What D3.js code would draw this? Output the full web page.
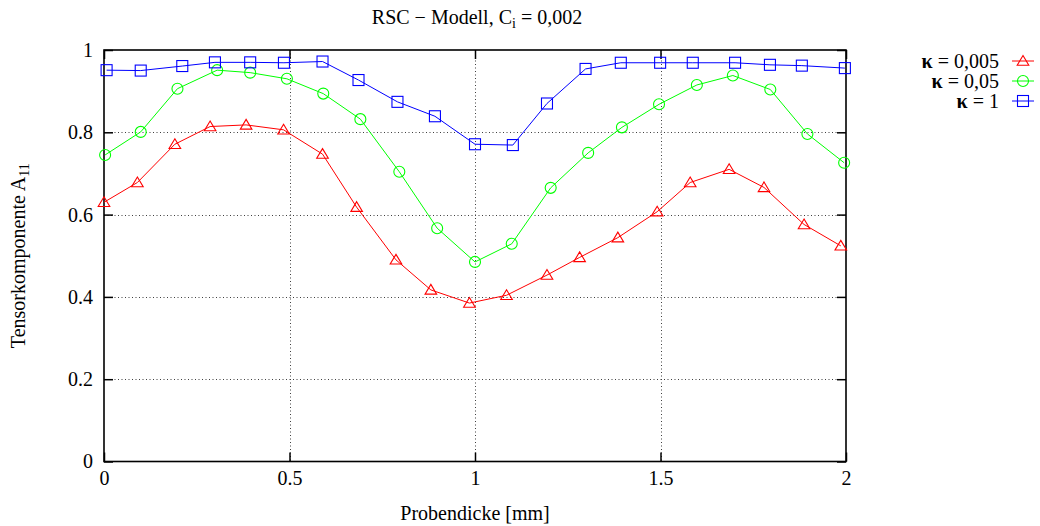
<!DOCTYPE html>
<html>
<head>
<meta charset="utf-8">
<script src="https://cdn.jsdelivr.net/npm/d3@7"></script>
<style>
  body { margin: 0; background: #fff; }
  text { font-family: "Liberation Serif", "DejaVu Serif", serif; fill: #000; }
</style>
</head>
<body>
<div id="chart"></div>
<script>
// values
const xTicks = [0, 0.5, 1, 1.5, 2];
const yTicks = [0, 0.2, 0.4, 0.6, 0.8, 1];

const kappa0005X = [0, 0.09, 0.191, 0.286, 0.383, 0.484, 0.589, 0.681, 0.787, 0.881, 0.985,
  1.085, 1.194, 1.282, 1.385, 1.491, 1.58, 1.685, 1.779, 1.887, 1.986];
const kappa0005Y = [0.63, 0.678, 0.771, 0.814, 0.818, 0.806, 0.747, 0.618, 0.49, 0.417, 0.385,
  0.404, 0.453, 0.496, 0.544, 0.607, 0.678, 0.71, 0.666, 0.576, 0.524];

const kappa005X = [0.003, 0.099, 0.198, 0.305, 0.394, 0.493, 0.591, 0.691, 0.796, 0.898, 1.0,
  1.099, 1.204, 1.305, 1.396, 1.496, 1.598, 1.695, 1.796, 1.896, 1.995];
const kappa005Y = [0.745, 0.801, 0.906, 0.951, 0.945, 0.93, 0.894, 0.832, 0.704, 0.567, 0.485,
  0.529, 0.665, 0.75, 0.812, 0.868, 0.915, 0.938, 0.904, 0.796, 0.726];

const kappa1X = [0.007, 0.099, 0.211, 0.299, 0.394, 0.485, 0.589, 0.686, 0.791, 0.892, 1.0,
  1.102, 1.194, 1.298, 1.393, 1.499, 1.587, 1.701, 1.795, 1.881, 1.997];
const kappa1Y = [0.951, 0.95, 0.961, 0.97, 0.97, 0.969, 0.972, 0.927, 0.874, 0.839, 0.771,
  0.769, 0.87, 0.954, 0.969, 0.969, 0.969, 0.969, 0.964, 0.962, 0.956];

const seriesLabels = ["0,005", "0,05", "1"];
const seriesColors = ["#ff0000", "#00ff00", "#0000ff"];
const seriesMarkers = ["triangle", "circle", "square"];

const series = [
  { label: seriesLabels[0], color: seriesColors[0], marker: seriesMarkers[0],
    values: kappa0005X.map((x, i) => [x, kappa0005Y[i]]) },
  { label: seriesLabels[1], color: seriesColors[1], marker: seriesMarkers[1],
    values: kappa005X.map((x, i) => [x, kappa005Y[i]]) },
  { label: seriesLabels[2], color: seriesColors[2], marker: seriesMarkers[2],
    values: kappa1X.map((x, i) => [x, kappa1Y[i]]) }
];

const width = 1040;
const height = 526;
const margin = { top: 50, right: 194, bottom: 64.5, left: 104 };
const fontSize = "20px";

const svg = d3.select("#chart").append("svg")
  .attr("width", width)
  .attr("height", height);

const x = d3.scaleLinear().domain([0, 2]).range([margin.left, width - margin.right]);
const y = d3.scaleLinear().domain([0, 1]).range([height - margin.bottom, margin.top]);

const x0 = x.range()[0], x1 = x.range()[1];
const y0 = y.range()[0], y1 = y.range()[1];

// grid
const grid = svg.append("g")
  .attr("stroke", "#000")
  .attr("stroke-width", 1)
  .attr("stroke-dasharray", "1,2.5")
  .attr("opacity", 0.75);

grid.selectAll(".gx")
  .data(xTicks.filter(d => d > 0 && d < 2))
  .join("line")
  .attr("x1", d => Math.round(x(d)) + 0.5).attr("x2", d => Math.round(x(d)) + 0.5)
  .attr("y1", y1).attr("y2", y0);

grid.selectAll(".gy")
  .data(yTicks.filter(d => d > 0 && d < 1))
  .join("line")
  .attr("y1", d => Math.round(y(d)) + 0.5).attr("y2", d => Math.round(y(d)) + 0.5)
  .attr("x1", x0).attr("x2", x1);

// axes with inward ticks, mirrored
const tick = 9;
svg.append("g")
  .attr("transform", `translate(0,${y0})`)
  .call(d3.axisBottom(x).tickValues(xTicks).tickSize(-tick).tickPadding(9.5)
    .tickFormat(d3.format("")))
  .call(g => g.select(".domain").remove());
svg.append("g")
  .attr("transform", `translate(0,${y1})`)
  .call(d3.axisTop(x).tickValues(xTicks).tickSize(-tick).tickFormat(""))
  .call(g => g.select(".domain").remove());
svg.append("g")
  .attr("transform", `translate(${x0},0)`)
  .call(d3.axisLeft(y).tickValues(yTicks).tickSize(-tick).tickPadding(11)
    .tickFormat(d3.format("")))
  .call(g => g.select(".domain").remove());
svg.append("g")
  .attr("transform", `translate(${x1},0)`)
  .call(d3.axisRight(y).tickValues(yTicks).tickSize(-tick).tickFormat(""))
  .call(g => g.select(".domain").remove());

svg.selectAll(".tick line").attr("stroke", "#000").attr("stroke-width", 1.5);
svg.selectAll(".tick text")
  .style("font-family", "Liberation Serif, serif")
  .style("font-size", fontSize);

// frame
svg.append("rect")
  .attr("x", x0).attr("y", y1)
  .attr("width", x1 - x0).attr("height", y0 - y1)
  .attr("fill", "none")
  .attr("stroke", "#000")
  .attr("stroke-width", 1.6);

// markers
function drawMarker(sel, type, color) {
  if (type === "triangle") {
    sel.append("path")
      .attr("d", "M0,-5.5L5.8,4.2L-5.8,4.2Z")
      .attr("fill", "none").attr("stroke", color).attr("stroke-width", 1.1);
  } else if (type === "circle") {
    sel.append("circle")
      .attr("r", 5.5)
      .attr("fill", "none").attr("stroke", color).attr("stroke-width", 1.1);
  } else {
    sel.append("rect")
      .attr("x", -5.5).attr("y", -5.5).attr("width", 11).attr("height", 11)
      .attr("fill", "none").attr("stroke", color).attr("stroke-width", 1.1);
  }
}

const line = d3.line().x(d => x(d[0])).y(d => y(d[1]));

series.forEach(s => {
  svg.append("path")
    .datum(s.values)
    .attr("d", line)
    .attr("fill", "none")
    .attr("stroke", s.color)
    .attr("stroke-width", 1);

  svg.append("g").selectAll("g")
    .data(s.values)
    .join("g")
    .attr("transform", d => `translate(${x(d[0])},${y(d[1])})`)
    .each(function () { drawMarker(d3.select(this), s.marker, s.color); });
});

// legend
const legend = svg.append("g");
series.forEach((s, i) => {
  const ly = 61 + i * 20;
  const t = legend.append("text")
    .attr("x", 999).attr("y", ly)
    .attr("dy", "0.35em")
    .attr("text-anchor", "end")
    .style("font-size", fontSize);
  t.append("tspan").attr("font-weight", "bold").text("κ");
  t.append("tspan").text(" = " + s.label);
  legend.append("line")
    .attr("x1", 1012).attr("x2", 1034)
    .attr("y1", ly).attr("y2", ly)
    .attr("stroke", s.color);
  const m = legend.append("g").attr("transform", `translate(1023,${ly})`);
  drawMarker(m, s.marker, s.color);
});

// title and axis labels
const title = svg.append("text")
  .attr("x", 477).attr("y", 24)
  .attr("text-anchor", "middle")
  .style("font-size", fontSize);
title.append("tspan").text("RSC − Modell, C");
title.append("tspan").attr("dy", 4).style("font-size", "14px").text("i");
title.append("tspan").attr("dy", -4).text(" = 0,002");

svg.append("text")
  .attr("x", (x0 + x1) / 2).attr("y", 520)
  .attr("text-anchor", "middle")
  .style("font-size", fontSize)
  .text("Probendicke [mm]");

const ylab = svg.append("text")
  .attr("transform", `translate(25,${(y0 + y1) / 2}) rotate(-90)`)
  .attr("text-anchor", "middle")
  .style("font-size", fontSize);
ylab.append("tspan").text("Tensorkomponente A");
ylab.append("tspan").attr("dy", 4).style("font-size", "14px").text("11");
</script>
</body>
</html>
